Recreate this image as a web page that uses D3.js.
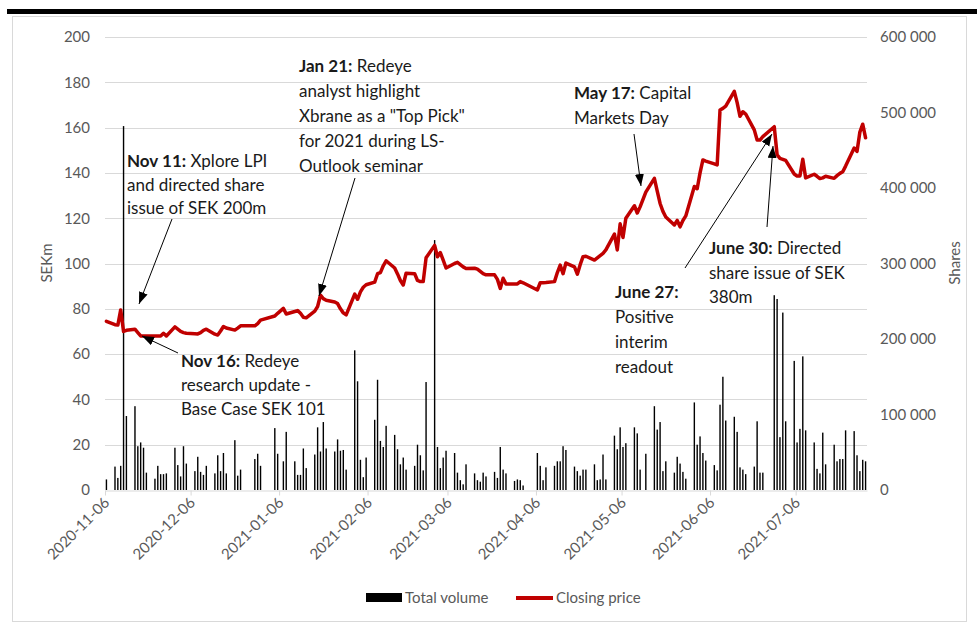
<!DOCTYPE html>
<html>
<head>
<meta charset="utf-8">
<script src="https://cdn.jsdelivr.net/npm/d3@7"></script>
<style>
    html, body { margin: 0; padding: 0; background: #ffffff; }
    #chart { width: 977px; height: 625px; }
    text { font-family: Lato, "Open Sans", sans-serif; }
</style>
</head>
<body>
<div id="chart"></div>
<script>
// Trading calendar (Nasdaq Stockholm, weekdays minus closing days)
const firstDay = '2020-11-06';
const axisEnd = '2021-07-31';
const lastDay = '2021-07-30';
const holidays = ['2020-12-24', '2020-12-25', '2020-12-31', '2021-01-01', '2021-01-06',
    '2021-04-02', '2021-04-05', '2021-05-13', '2021-06-25'];

const xTickLabels = ['2020-11-06', '2020-12-06', '2021-01-06', '2021-02-06', '2021-03-06',
    '2021-04-06', '2021-05-06', '2021-06-06', '2021-07-06'];
const priceTicks = [0, 20, 40, 60, 80, 100, 120, 140, 160, 180, 200];
const volumeTicks = [0, 100000, 200000, 300000, 400000, 500000, 600000];

// Closing price, SEKm (one value per trading day, grouped by week)
const closingPrice = [
    74.5,
    73, 72.8, 79.5, 70, 70.5,
    71, 69.5, 68, 68, 68,
    68, 68, 68, 69.2, 68,
    72, 71, 70, 69.5, 69.2,
    69, 68.9, 69.5, 70.5, 71,
    68.8, 68.4, 70.2, 72.2, 71.5,
    70.6, 71.5, 72.5,
    72.5, 73.5, 75,
    76.8, 78, 80.2, 77.7,
    78.8, 79.2, 78, 76.3, 76,
    79, 81, 86, 84.5, 83.8,
    83, 82.3, 80, 78.2, 77.3,
    86.5, 84.2, 87.5, 89.5, 90.6,
    91.8, 95.5, 96, 99, 101.2,
    98, 95.4, 92.5, 90.5, 95.7,
    95.5, 92.5, 92, 92, 102.5,
    108, 103, 104.8, 101.5, 98,
    100, 100.5, 99.5, 98.5, 97.8,
    97.9, 97.5, 96.5, 95.5, 95,
    95, 93, 89, 93.5, 91,
    91, 91, 92, 91.5,
    88.3, 91.5, 91.5, 91.6,
    92, 96, 99.3, 95.5, 100.2,
    98.5, 95.3, 99.5, 103, 103.2,
    101.5, 102.5, 103.5, 104.5, 106,
    113, 106, 117.5, 111.5, 120,
    125.5, 122.3, 125, 131.5,
    137.6, 132, 126.5, 123, 120.5,
    117, 119, 116.2, 119, 121,
    134, 133, 140, 145.7, 145.2,
    144, 143.5, 167.8, 168.5, 169.5,
    176, 171, 165, 167, 166,
    159, 154.5, 154.5, 156,
    160.4, 148, 146.4, 146, 145.5,
    139.5, 138.6, 138.6, 146, 137.8,
    139.4, 138.5, 137.5, 137.8, 138.5,
    137.6, 138.8, 139.8, 140.5, 143,
    151, 149.5, 158, 161.5, 155.5
];

// Total volume, shares (one value per trading day, grouped by week)
const totalVolume = [
    14000,
    31000, 16000, 32000, 482000, 98000,
    111000, 58000, 63000, 56000, 23000,
    15000, 32000, 21000, 21000, 22000,
    56000, 33000, 18000, 58000, 35000,
    25000, 44000, 24000, 20000, 32000,
    22000, 46000, 25000, 49000, 22000,
    66000, 19000, 27000,
    41000, 48000, 32000,
    82000, 48000, 38000, 77000,
    38000, 20000, 20000, 55000, 29000,
    47000, 83000, 51000, 90000, 55000,
    51000, 67000, 52000, 53000, 27000,
    185000, 144000, 40000, 17000, 43000,
    93000, 146000, 65000, 57000, 85000,
    73000, 54000, 34000, 43000, 27000,
    32000, 60000, 46000, 26000, 143000,
    331000, 57000, 29000, 43000, 52000,
    49000, 23000, 13000, 7500, 34000,
    22000, 13000, 11000, 23000, 18000,
    24000, 16000, 57000, 27000, 22000,
    12000, 14000, 13000, 6000,
    49000, 32000, 13000, 30000,
    32000, 38000, 38000, 58000, 53000,
    31000, 25000, 19000, 27000, 27000,
    34000, 13000, 14000, 47000, 14000,
    72000, 54000, 83000, 57000, 62000,
    83000, 75000, 27000, 48000,
    111000, 80000, 90000, 25000, 38000,
    23000, 44000, 35000, 24000, 15000,
    116000, 60000, 71000, 49000, 39000,
    33000, 26000, 113000, 150000, 92000,
    97000, 77000, 30000, 27000, 21000,
    31000, 91000, 23000, 23000,
    258000, 253000, 70000, 235000, 91000,
    171000, 63000, 81000, 177000, 79000,
    63000, 28000, 22000, 76000, 34000,
    60000, 38000, 41000, 41000, 79000,
    78000, 46000, 25000, 40000, 38000
];

// Event call-outs
const annotations = [
    { bold: 'Nov 11:', lines: [' Xplore LPI', 'and directed share', 'issue of SEK 200m'],
      x: 127, y: 167, lh: 23.5, arrow: [172, 219, 139, 304] },
    { bold: 'Nov 16:', lines: [' Redeye', 'research update -', 'Base Case SEK 101'],
      x: 181, y: 367, lh: 24, arrow: [178, 353, 142, 336] },
    { bold: 'Jan 21:', lines: [' Redeye', 'analyst highlight', 'Xbrane as a "Top Pick"', 'for 2021 during LS-', 'Outlook seminar'],
      x: 299, y: 72, lh: 25, arrow: [355, 178, 319, 296] },
    { bold: 'May 17:', lines: [' Capital', 'Markets Day'],
      x: 574, y: 99, lh: 25, arrow: [634, 134, 641, 186] },
    { bold: 'June 27:', lines: ['', 'Positive', 'interim', 'readout'],
      x: 615, y: 298, lh: 25, arrow: [685, 268, 772, 134] },
    { bold: 'June 30:', lines: [' Directed', 'share issue of SEK', '380m'],
      x: 709, y: 254, lh: 24.5, arrow: [767, 227, 773, 146] }
];

class PriceVolumeChart {
    constructor(containerId) {
        this.containerId = containerId;
        this.width = 977;
        this.height = 625;
        this.plot = { left: 105, right: 867, top: 37, bottom: 490 };
        this.parse = d3.utcParse('%Y-%m-%d');
        this.fmt = d3.utcFormat('%Y-%m-%d');
        this.grey = '#595959';
    }

    tradingDays() {
        const closed = new Set(holidays);
        return d3.utcDay.range(this.parse(firstDay), d3.utcDay.offset(this.parse(lastDay), 1))
            .filter(d => d.getUTCDay() !== 0 && d.getUTCDay() !== 6 && !closed.has(this.fmt(d)));
    }

    render() {
        const days = this.tradingDays();
        this.data = days.map((d, i) => ({ date: d, price: closingPrice[i], volume: totalVolume[i] }));

        this.x = d3.scaleUtc()
            .domain([this.parse(firstDay), this.parse(axisEnd)])
            .range([this.plot.left, this.plot.right]);
        this.half = (this.x(d3.utcDay.offset(this.parse(firstDay), 1)) - this.x(this.parse(firstDay))) / 2;

        this.yPrice = d3.scaleLinear().domain([0, 200]).range([this.plot.bottom, this.plot.top]);
        this.yVol = d3.scaleLinear().domain([0, 600000]).range([this.plot.bottom, this.plot.top]);

        this.svg = d3.select(`#${this.containerId}`)
            .append('svg')
            .attr('width', this.width)
            .attr('height', this.height);

        this.drawFrame();
        this.drawGrid();
        this.drawAxes();
        this.drawBars();
        this.drawLine();
        this.drawAnnotations();
        this.drawLegend();
    }

    drawFrame() {
        this.svg.append('rect')
            .attr('x', 12.5).attr('y', 16.5)
            .attr('width', 954).attr('height', 605)
            .attr('fill', 'none').attr('stroke', '#d9d9d9');

        this.svg.append('rect')
            .attr('x', 7).attr('y', 9)
            .attr('width', 970).attr('height', 5)
            .attr('fill', '#000');
    }

    drawGrid() {
        this.svg.append('g')
            .selectAll('line')
            .data(priceTicks.filter(v => v > 0))
            .enter()
            .append('line')
            .attr('x1', this.plot.left)
            .attr('x2', this.plot.right)
            .attr('y1', d => Math.round(this.yPrice(d)) + 0.5)
            .attr('y2', d => Math.round(this.yPrice(d)) + 0.5)
            .attr('stroke', '#d9d9d9')
            .attr('stroke-width', 1);
    }

    drawAxes() {
        // Left axis (SEKm)
        const left = this.svg.append('g')
            .attr('transform', `translate(${this.plot.left},0)`)
            .call(d3.axisLeft(this.yPrice).tickValues(priceTicks).tickSize(0).tickPadding(15));
        left.select('.domain').remove();
        left.selectAll('text')
            .style('font-size', '15px')
            .style('font-family', 'Lato')
            .attr('fill', this.grey);

        // Right axis (shares)
        const spaced = d3.format(',');
        const right = this.svg.append('g')
            .attr('transform', `translate(${this.plot.right},0)`)
            .call(d3.axisRight(this.yVol).tickValues(volumeTicks).tickSize(0).tickPadding(13)
                .tickFormat(v => spaced(v).replace(/,/g, ' ')));
        right.select('.domain').remove();
        right.selectAll('text')
            .style('font-size', '15px')
            .style('font-family', 'Lato')
            .attr('fill', this.grey);

        // Bottom axis (dates)
        const bottom = this.svg.append('g')
            .attr('transform', `translate(0,${this.plot.bottom + 0.5})`)
            .call(d3.axisBottom(this.x)
                .tickValues(xTickLabels.map(s => this.parse(s)))
                .tickSize(5)
                .tickSizeOuter(0)
                .tickFormat(this.fmt));
        bottom.select('.domain').attr('stroke', '#d9d9d9');
        bottom.selectAll('.tick line').attr('stroke', '#d9d9d9');
        bottom.selectAll('text')
            .style('font-size', '15px')
            .style('font-family', 'Lato')
            .attr('fill', this.grey)
            .attr('text-anchor', 'end')
            .attr('x', 0)
            .attr('y', 0)
            .attr('dy', 0)
            .attr('transform', 'translate(5,13) rotate(-45)');

        // Axis titles
        this.svg.append('text')
            .attr('transform', 'translate(52,263) rotate(-90)')
            .attr('text-anchor', 'middle')
            .style('font-size', '15px')
            .attr('fill', this.grey)
            .text('SEKm');

        this.svg.append('text')
            .attr('transform', 'translate(960,263) rotate(-90)')
            .attr('text-anchor', 'middle')
            .style('font-size', '15px')
            .attr('fill', this.grey)
            .text('Shares');
    }

    drawBars() {
        this.svg.append('g')
            .selectAll('rect')
            .data(this.data)
            .enter()
            .append('rect')
            .attr('x', d => this.x(d.date) + this.half - 0.7)
            .attr('y', d => this.yVol(d.volume))
            .attr('width', 1.4)
            .attr('height', d => this.plot.bottom - this.yVol(d.volume))
            .attr('fill', '#000');
    }

    drawLine() {
        const line = d3.line()
            .x(d => this.x(d.date) + this.half)
            .y(d => this.yPrice(d.price));

        this.svg.append('path')
            .datum(this.data)
            .attr('d', line)
            .attr('fill', 'none')
            .attr('stroke', '#c00000')
            .attr('stroke-width', 3.5)
            .attr('stroke-linejoin', 'round')
            .attr('stroke-linecap', 'round');
    }

    drawAnnotations() {
        this.svg.append('defs')
            .append('marker')
            .attr('id', 'arrowhead')
            .attr('markerUnits', 'userSpaceOnUse')
            .attr('markerWidth', 13)
            .attr('markerHeight', 10)
            .attr('refX', 12)
            .attr('refY', 4.5)
            .attr('orient', 'auto')
            .append('path')
            .attr('d', 'M0,0 L12,4.5 L0,9 Z')
            .attr('fill', '#000');

        annotations.forEach(a => {
            this.svg.append('line')
                .attr('x1', a.arrow[0]).attr('y1', a.arrow[1])
                .attr('x2', a.arrow[2]).attr('y2', a.arrow[3])
                .attr('stroke', '#000')
                .attr('stroke-width', 1)
                .attr('marker-end', 'url(#arrowhead)');

            const text = this.svg.append('text')
                .attr('x', a.x)
                .attr('y', a.y)
                .style('font-size', '17px')
                .attr('fill', '#1a1a1a');

            text.append('tspan')
                .style('font-weight', 'bold')
                .text(a.bold);

            a.lines.forEach((l, i) => {
                if (i === 0) {
                    text.append('tspan').text(l);
                } else {
                    text.append('tspan')
                        .attr('x', a.x)
                        .attr('y', a.y + i * a.lh)
                        .text(l);
                }
            });
        });
    }

    drawLegend() {
        const legend = this.svg.append('g');

        legend.append('rect')
            .attr('x', 366).attr('y', 593)
            .attr('width', 36).attr('height', 9)
            .attr('fill', '#000');

        legend.append('text')
            .attr('x', 405).attr('y', 603)
            .style('font-size', '15px')
            .attr('fill', this.grey)
            .text('Total volume');

        legend.append('line')
            .attr('x1', 516).attr('x2', 553)
            .attr('y1', 598).attr('y2', 598)
            .attr('stroke', '#c00000')
            .attr('stroke-width', 4);

        legend.append('text')
            .attr('x', 556).attr('y', 603)
            .style('font-size', '15px')
            .attr('fill', this.grey)
            .text('Closing price');
    }
}

new PriceVolumeChart('chart').render();
</script>
</body>
</html>
